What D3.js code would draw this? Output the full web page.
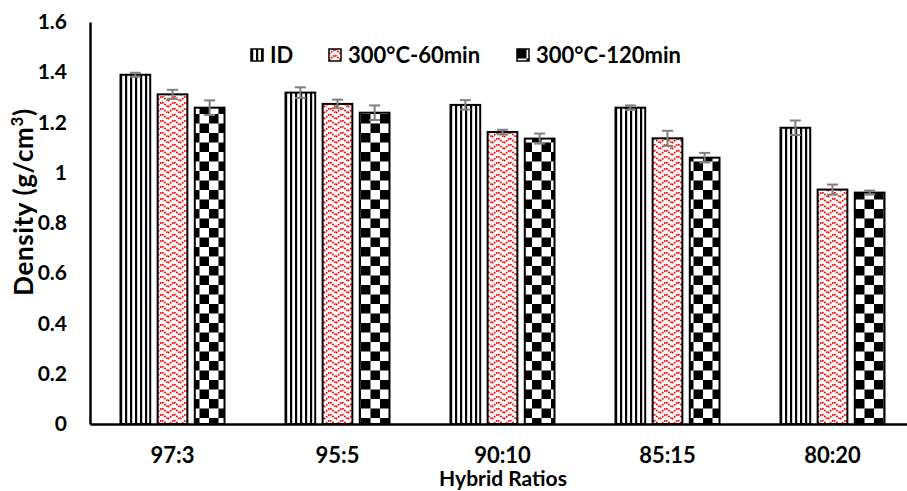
<!DOCTYPE html>
<html>
<head>
<meta charset="utf-8">
<script src="https://cdn.jsdelivr.net/npm/d3@7"></script>
<style>
  body { margin: 0; background: #fff; }
  text { font-family: Lato, "Open Sans", sans-serif; font-weight: bold; fill: #000; }
</style>
</head>
<body>
<svg id="chart"></svg>
<script>
// data
let categories = ["97:3", "95:5", "90:10", "85:15", "80:20"];
let seriesNames = ["ID", "300°C-60min", "300°C-120min"];
let idValues = [1.39, 1.319, 1.27, 1.259, 1.179];
let idErrors = [0.008, 0.021, 0.019, 0.009, 0.029];
let min60Values = [1.312, 1.274, 1.162, 1.137, 0.933];
let min60Errors = [0.018, 0.017, 0.009, 0.03, 0.02];
let min120Values = [1.259, 1.239, 1.136, 1.06, 0.921];
let min120Errors = [0.029, 0.029, 0.02, 0.019, 0.008];
let yTicks = [0, 0.2, 0.4, 0.6, 0.8, 1, 1.2, 1.4, 1.6];

let series = [
  { name: seriesNames[0], values: idValues, errors: idErrors, fill: "url(#stripes)" },
  { name: seriesNames[1], values: min60Values, errors: min60Errors, fill: "url(#zigzag)" },
  { name: seriesNames[2], values: min120Values, errors: min120Errors, fill: "url(#checker)" },
];

let data = [];
categories.forEach((c, i) => {
  series.forEach((s) => {
    data.push({ category: c, series: s.name, value: s.values[i], error: s.errors[i], fill: s.fill });
  });
});

let config = getConfig();
let scales = getScales(config);
makePatterns(config);
drawAxes(scales, config);
drawBars(scales, config);
drawLegend(config);

function getConfig() {
  let width = 907;
  let height = 491;
  let margin = { top: 22, bottom: 67, left: 90, right: -8 };
  let bodyWidth = width - margin.left - margin.right;
  let bodyHeight = height - margin.top - margin.bottom;
  let container = d3.select("#chart").attr("width", width).attr("height", height);
  return { width, height, margin, bodyWidth, bodyHeight, container };
}

function getScales({ margin, bodyWidth, bodyHeight }) {
  let xScale = d3
    .scaleBand()
    .domain(categories)
    .range([margin.left, margin.left + bodyWidth]);
  let innerScale = d3
    .scaleBand()
    .domain(seriesNames)
    .range([-52, 52])
    .paddingInner(0.2);
  let yScale = d3
    .scaleLinear()
    .domain([0, 1.6])
    .range([margin.top + bodyHeight, margin.top]);
  return { xScale, innerScale, yScale };
}

function makePatterns({ container }) {
  let defs = container.append("defs");

  let stripes = defs.append("pattern").attr("id", "stripes")
    .attr("patternUnits", "userSpaceOnUse").attr("width", 5).attr("height", 5);
  stripes.append("rect").attr("width", 5).attr("height", 5).attr("fill", "#fff");
  stripes.append("rect").attr("width", 2.2).attr("height", 5).attr("fill", "#000");

  let zig = defs.append("pattern").attr("id", "zigzag")
    .attr("patternUnits", "userSpaceOnUse").attr("width", 12).attr("height", 12);
  zig.append("rect").attr("width", 12).attr("height", 12).attr("fill", "#fff");
  zig.append("path")
    .attr("d", "M0,5 L6,0 L12,5 M0,11 L6,6 L12,11")
    .attr("fill", "none")
    .attr("stroke", "#ff0000")
    .attr("stroke-width", 1.8)
    .attr("stroke-dasharray", "1.6,1.1");

  let checker = defs.append("pattern").attr("id", "checker")
    .attr("patternUnits", "userSpaceOnUse").attr("width", 19).attr("height", 19);
  checker.append("rect").attr("width", 19).attr("height", 19).attr("fill", "#fff");
  checker.append("rect").attr("width", 9.5).attr("height", 9.5).attr("fill", "#000");
  checker.append("rect").attr("x", 9.5).attr("y", 9.5).attr("width", 9.5).attr("height", 9.5).attr("fill", "#000");
}

function drawAxes({ xScale, yScale }, { margin, bodyHeight, container }) {
  let xAxis = d3.axisBottom(xScale).tickSize(0).tickSizeOuter(0);
  let gx = container.append("g")
    .attr("transform", `translate(0,${margin.top + bodyHeight})`)
    .call(xAxis);
  gx.select(".domain").attr("stroke", "#000").attr("stroke-width", 2.5);
  gx.selectAll(".tick text")
    .attr("y", 23)
    .style("font-size", "22px")
    .style("font-family", "Lato, sans-serif")
    .style("font-weight", "bold");

  let yAxis = d3.axisLeft(yScale)
    .tickValues(yTicks)
    .tickSize(0)
    .tickSizeOuter(0)
    .tickPadding(23)
    .tickFormat((d) => d3.format(".1~f")(d));
  let gy = container.append("g")
    .attr("transform", `translate(${margin.left},0)`)
    .call(yAxis);
  gy.select(".domain").attr("stroke", "#000").attr("stroke-width", 2.5);
  gy.selectAll(".tick text")
    .style("font-size", "21px")
    .style("font-family", "Lato, sans-serif")
    .style("font-weight", "bold");

  container.append("text")
    .attr("x", 503)
    .attr("y", 486)
    .attr("text-anchor", "middle")
    .style("font-size", "21px")
    .text("Hybrid Ratios");

  let yTitle = container.append("text")
    .attr("transform", "translate(33,202) rotate(-90)")
    .attr("text-anchor", "middle")
    .style("font-size", "26px")
    .style("letter-spacing", "0.6px");
  yTitle.append("tspan").text("Density (g/cm");
  yTitle.append("tspan").attr("baseline-shift", "super").style("font-size", "17px").text("3");
  yTitle.append("tspan").text(")");
}

function drawBars({ xScale, innerScale, yScale }, { container }) {
  let body = container.append("g");
  let bw = innerScale.bandwidth();
  let cx = (d) => xScale(d.category) + xScale.bandwidth() / 2 + innerScale(d.series);

  body.selectAll(".bar")
    .data(data)
    .enter()
    .append("rect")
    .attr("class", "bar")
    .attr("x", cx)
    .attr("y", (d) => yScale(d.value))
    .attr("width", bw)
    .attr("height", (d) => yScale(0) - yScale(d.value))
    .attr("fill", (d) => d.fill)
    .attr("stroke", "#000")
    .attr("stroke-width", 2);

  let err = body.selectAll(".err")
    .data(data)
    .enter()
    .append("g")
    .attr("class", "err")
    .attr("stroke", "#7f7f7f")
    .attr("stroke-width", 2);
  err.append("line")
    .attr("x1", (d) => cx(d) + bw / 2)
    .attr("x2", (d) => cx(d) + bw / 2)
    .attr("y1", (d) => yScale(d.value - d.error))
    .attr("y2", (d) => yScale(d.value + d.error));
  err.append("line")
    .attr("x1", (d) => cx(d) + bw / 2 - 5.5)
    .attr("x2", (d) => cx(d) + bw / 2 + 5.5)
    .attr("y1", (d) => yScale(d.value + d.error))
    .attr("y2", (d) => yScale(d.value + d.error));
  err.append("line")
    .attr("x1", (d) => cx(d) + bw / 2 - 5.5)
    .attr("x2", (d) => cx(d) + bw / 2 + 5.5)
    .attr("y1", (d) => yScale(d.value - d.error))
    .attr("y2", (d) => yScale(d.value - d.error));
}

function drawLegend({ container }) {
  let legendX = [251, 329, 517];
  let legend = container.append("g");
  let items = legend.selectAll(".item")
    .data(series)
    .enter()
    .append("g")
    .attr("class", "item")
    .attr("transform", (d, i) => `translate(${legendX[i]},49)`);
  items.append("rect")
    .attr("width", 12)
    .attr("height", 12)
    .attr("fill", (d) => d.fill)
    .attr("stroke", "#000")
    .attr("stroke-width", 1.5);
  items.append("text")
    .attr("x", 19)
    .attr("y", 14)
    .style("font-size", "22px")
    .text((d) => d.name);
}
</script>
</body>
</html>
